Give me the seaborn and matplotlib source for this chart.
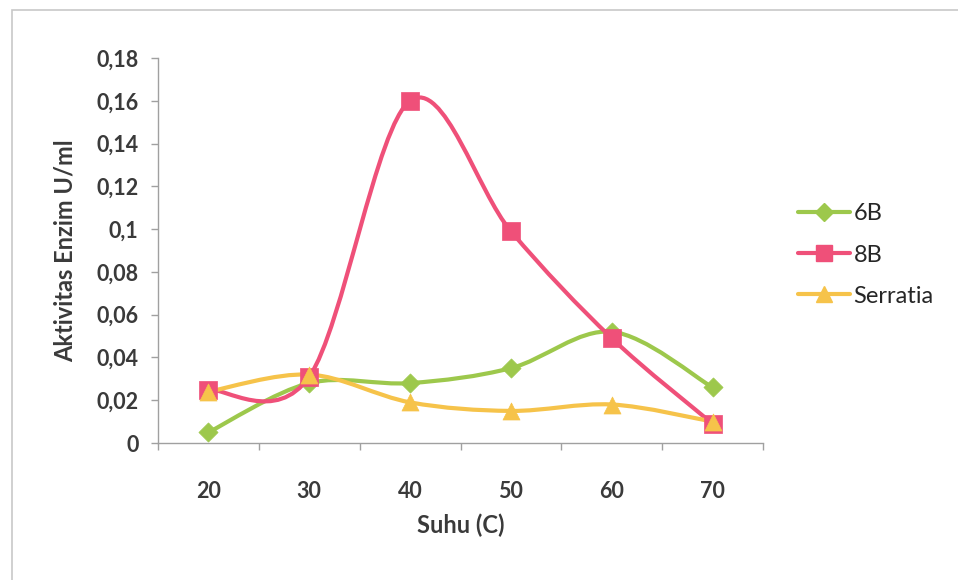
import numpy as np
import pandas as pd
import matplotlib
matplotlib.use("Agg")
import matplotlib.pyplot as plt
import seaborn as sns
from matplotlib.path import Path
from matplotlib.patches import PathPatch, Rectangle
from matplotlib.lines import Line2D

# ---- data ----
categories = ["20", "30", "40", "50", "60", "70"]
series_6b = [0.005, 0.028, 0.028, 0.035, 0.052, 0.026]
series_8b = [0.025, 0.031, 0.160, 0.099, 0.049, 0.009]
series_serratia = [0.024, 0.032, 0.019, 0.015, 0.018, 0.010]
series_names = ["6B", "8B", "Serratia"]
ytick_values = [0, 0.02, 0.04, 0.06, 0.08, 0.1, 0.12, 0.14, 0.16, 0.18]
ytick_labels = ["0", "0,02", "0,04", "0,06", "0,08", "0,1", "0,12", "0,14", "0,16", "0,18"]
x_label = "Suhu (C)"
y_label = "Aktivitas Enzim U/ml"

colors = {"6B": "#9dc84c", "8B": "#ef5079", "Serratia": "#f6c34a"}
markers = {"6B": "D", "8B": "s", "Serratia": "^"}
msizes = {"6B": 95, "8B": 160, "Serratia": 150}

sns.set_theme(style="white")
plt.rcParams["font.family"] = ["Lato", "DejaVu Sans"]

fig = plt.figure(figsize=(9.58, 5.80), dpi=100)
ax = fig.add_axes([158 / 958, 1 - 443 / 580, (763 - 158) / 958, (443 - 58) / 580])

# outer frame of the chart area
fig.patches.append(Rectangle((12 / 958, -0.01), 1.0, 1 - 10 / 580 + 0.01,
                             transform=fig.transFigure, fill=False,
                             edgecolor="#c8c8c8", linewidth=1.2))

x_idx = np.arange(len(categories))
data = {"6B": series_6b, "8B": series_8b, "Serratia": series_serratia}


def smooth_path(xs, ys):
    pts = np.column_stack([xs, ys]).astype(float)
    n = len(pts)
    verts = [pts[0]]
    codes = [Path.MOVETO]
    for i in range(n - 1):
        p0 = pts[i - 1] if i > 0 else pts[i]
        p1 = pts[i]
        p2 = pts[i + 1]
        p3 = pts[i + 2] if i + 2 < n else pts[i + 1]
        c1 = p1 + (p2 - p0) / 6.0
        c2 = p2 - (p3 - p1) / 6.0
        verts += [c1, c2, p2]
        codes += [Path.CURVE4] * 3
    return Path(verts, codes)


for name in series_names:
    vals = data[name]
    ax.add_patch(PathPatch(smooth_path(x_idx, vals), facecolor="none",
                           edgecolor=colors[name], linewidth=3.0,
                           capstyle="round", joinstyle="round", zorder=2))

for name in series_names:
    df = pd.DataFrame({"x": x_idx, "y": data[name]})
    sns.scatterplot(data=df, x="x", y="y", marker=markers[name], s=msizes[name],
                    color=colors[name], edgecolor=colors[name], linewidth=0.5,
                    ax=ax, zorder=3, legend=False)

ax.set_xlim(-0.5, len(categories) - 0.5)
ax.set_ylim(0, 0.18)

ax.set_yticks(ytick_values)
ax.set_yticklabels(ytick_labels)
ax.set_xticks(x_idx)
ax.set_xticklabels(categories)
ax.set_xticks(np.arange(-0.5, len(categories), 1.0), minor=True)

for s in ["top", "right"]:
    ax.spines[s].set_visible(False)
for s in ["left", "bottom"]:
    ax.spines[s].set_color("#a0a0a0")
    ax.spines[s].set_linewidth(1.0)

ax.tick_params(axis="y", which="major", length=5, width=1, color="#a0a0a0",
               direction="out", left=True, pad=9, labelsize=15.5,
               labelcolor="#3a3a3a")
ax.tick_params(axis="x", which="major", length=0, pad=27, labelsize=15.5,
               labelcolor="#3a3a3a")
ax.tick_params(axis="x", which="minor", length=5, width=1, color="#a0a0a0",
               direction="out", bottom=True)
for lbl in ax.get_yticklabels() + ax.get_xticklabels():
    lbl.set_fontweight("bold")

ax.set_xlabel(x_label, fontsize=17, fontweight="bold", color="#3a3a3a", labelpad=9)
ax.set_ylabel(y_label, fontsize=17, fontweight="bold", color="#3a3a3a", labelpad=14)
ax.grid(False)
ax.set_facecolor("none")

handles = [Line2D([0], [0], color=colors[n], marker=markers[n], linewidth=3.0,
                  markersize={"6B": 9, "8B": 12, "Serratia": 12}[n],
                  markeredgecolor=colors[n]) for n in series_names]
fig.legend(handles, series_names, loc="center left",
           bbox_to_anchor=(798 / 958, 1 - 255 / 580), frameon=False,
           borderaxespad=0, borderpad=0,
           fontsize=17, handlelength=2.2, handletextpad=0.15, labelspacing=0.85,
           labelcolor="#262626")

fig.savefig("out.png", dpi=100, facecolor="white")
